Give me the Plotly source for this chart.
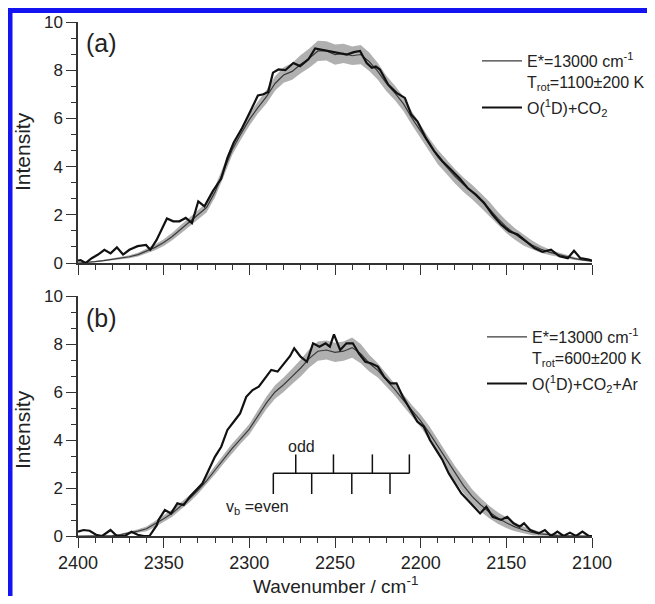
import plotly.graph_objects as go

# ---------------- data ----------------
# Panel (a): O(1D)+CO2 experiment
W_A_EXP = [2400.0, 2398.5, 2395.6, 2392.0, 2388.3, 2384.6, 2381.0, 2377.3, 2373.7, 2370.0,
           2365.2, 2360.3, 2357.8, 2354.2, 2348.1, 2344.4, 2340.8, 2337.1, 2333.5, 2329.8,
           2326.2, 2321.3, 2316.4, 2312.8, 2309.1, 2304.2, 2299.4, 2295.0, 2291.8, 2289.0,
           2286.2, 2283.0, 2279.0, 2274.3, 2270.4, 2265.5, 2261.6, 2258.0, 2254.8, 2249.0,
           2243.1, 2239.0, 2235.4, 2231.5, 2228.5, 2226.2, 2223.8, 2218.9, 2214.1, 2209.2,
           2205.5, 2201.9, 2197.0, 2192.1, 2187.3, 2182.4, 2177.5, 2172.6, 2167.8, 2162.9,
           2158.0, 2153.1, 2148.3, 2143.4, 2138.5, 2133.6, 2128.8, 2123.9, 2119.0, 2114.1,
           2110.5, 2106.8, 2101.9, 2100.0]
I_A_EXP = [0.10, 0.12, 0.00, 0.20, 0.35, 0.55, 0.40, 0.65, 0.35, 0.55,
           0.70, 0.75, 0.55, 0.95, 1.85, 1.73, 1.73, 1.87, 1.66, 2.56,
           2.35, 2.98, 3.50, 4.36, 5.00, 5.60, 6.30, 6.95, 7.00, 7.10,
           7.90, 8.03, 8.00, 8.30, 8.17, 8.45, 8.90, 8.85, 8.80, 8.72,
           8.65, 8.75, 8.80, 8.30, 8.10, 8.15, 8.03, 7.40, 7.06, 6.85,
           6.16, 5.88, 5.19, 4.64, 4.22, 3.88, 3.53, 3.11, 2.84, 2.49,
           2.00, 1.60, 1.32, 1.18, 0.90, 0.62, 0.46, 0.55, 0.28, 0.20,
           0.51, 0.20, 0.14, 0.10]

# Panel (a): simulation, E*=13000 cm-1, Trot=1100 K, and its uncertainty half-width
W_SIM = [2400, 2395, 2390, 2385, 2380, 2375, 2370, 2365, 2360, 2355,
         2350, 2345, 2340, 2335, 2330, 2325, 2320, 2315, 2310, 2305,
         2300, 2295, 2290, 2285, 2280, 2275, 2270, 2265, 2260, 2255,
         2250, 2245, 2240, 2235, 2230, 2225, 2220, 2215, 2210, 2205,
         2200, 2195, 2190, 2185, 2180, 2175, 2170, 2165, 2160, 2155,
         2150, 2145, 2140, 2135, 2130, 2125, 2120, 2115, 2110, 2105, 2100]
I_A_SIM = [0.00, 0.02, 0.06, 0.10, 0.15, 0.20, 0.26, 0.35, 0.50, 0.65,
           0.85, 1.10, 1.40, 1.70, 2.00, 2.30, 2.95, 3.80, 4.70, 5.35,
           5.95, 6.45, 6.90, 7.45, 7.80, 7.95, 8.25, 8.50, 8.80, 8.80,
           8.65, 8.70, 8.60, 8.65, 8.35, 7.95, 7.45, 7.05, 6.60, 6.00,
           5.45, 4.90, 4.40, 4.00, 3.60, 3.25, 2.95, 2.60, 2.25, 1.85,
           1.50, 1.20, 0.95, 0.75, 0.58, 0.45, 0.35, 0.25, 0.18, 0.12, 0.08]
B_A_SIM = [0.00, 0.01, 0.02, 0.03, 0.04, 0.05, 0.06, 0.08, 0.10, 0.12,
           0.14, 0.16, 0.18, 0.20, 0.20, 0.20, 0.22, 0.22, 0.22, 0.24,
           0.25, 0.25, 0.28, 0.30, 0.32, 0.35, 0.38, 0.40, 0.42, 0.40,
           0.42, 0.40, 0.38, 0.40, 0.38, 0.35, 0.32, 0.30, 0.30, 0.28,
           0.28, 0.28, 0.30, 0.30, 0.30, 0.30, 0.30, 0.30, 0.30, 0.28,
           0.26, 0.24, 0.22, 0.18, 0.15, 0.12, 0.10, 0.08, 0.06, 0.04, 0.03]

# Panel (b): O(1D)+CO2+Ar experiment
W_B_EXP = [2400.0, 2396.8, 2393.2, 2389.5, 2385.9, 2381.0, 2377.3, 2372.5, 2368.8, 2365.2,
           2361.5, 2358.3, 2354.0, 2353.0, 2349.3, 2345.7, 2342.0, 2338.3, 2334.7, 2331.0,
           2327.4, 2323.7, 2320.1, 2316.4, 2312.8, 2309.1, 2305.4, 2301.8, 2298.1, 2294.5,
           2290.8, 2287.2, 2283.5, 2279.9, 2276.2, 2273.8, 2270.1, 2266.4, 2262.8, 2259.1,
           2255.5, 2253.0, 2250.6, 2247.0, 2243.3, 2239.6, 2236.0, 2232.3, 2228.7, 2225.0,
           2221.4, 2217.7, 2214.1, 2210.4, 2206.7, 2201.9, 2198.2, 2194.6, 2190.9, 2187.3,
           2183.6, 2180.0, 2176.3, 2172.6, 2169.0, 2165.3, 2161.7, 2158.0, 2153.1, 2149.5,
           2145.8, 2142.2, 2139.7, 2136.1, 2131.2, 2127.5, 2123.9, 2120.2, 2116.6, 2112.9,
           2109.3, 2105.6, 2101.9, 2100.0]
I_B_EXP = [0.18, 0.25, 0.22, 0.05, 0.00, 0.25, 0.00, 0.00, 0.18, 0.05,
           0.00, 0.00, 0.45, 0.67, 1.08, 0.94, 1.36, 1.29, 1.64, 1.92,
           2.19, 2.75, 3.30, 3.72, 4.42, 4.76, 5.11, 5.80, 6.08, 6.22,
           6.57, 6.92, 6.85, 7.19, 7.50, 7.82, 7.47, 7.26, 8.03, 7.89,
           8.03, 7.89, 8.40, 7.75, 8.03, 8.03, 7.60, 7.26, 7.19, 7.06,
           6.64, 6.36, 6.36, 5.80, 5.32, 4.76, 4.56, 4.00, 3.58, 3.17,
           2.61, 2.19, 1.78, 1.50, 1.22, 0.94, 1.22, 0.80, 0.67, 0.80,
           0.53, 0.39, 0.53, 0.25, 0.11, 0.25, 0.00, 0.18, 0.00, 0.14,
           0.00, 0.18, 0.00, 0.00]

# Panel (b): simulation, E*=13000 cm-1, Trot=600 K, and its uncertainty half-width
I_B_SIM = [0.00, 0.00, 0.00, 0.00, 0.02, 0.06, 0.12, 0.20, 0.30, 0.50,
           0.72, 0.95, 1.25, 1.55, 1.90, 2.30, 2.75, 3.20, 3.65, 4.05,
           4.45, 5.00, 5.55, 6.00, 6.30, 6.65, 7.00, 7.40, 7.70, 7.75,
           7.65, 7.70, 7.85, 7.60, 7.20, 6.90, 6.50, 6.10, 5.65, 5.20,
           4.80, 4.30, 3.75, 3.15, 2.60, 2.10, 1.65, 1.30, 1.00, 0.75,
           0.55, 0.38, 0.25, 0.15, 0.09, 0.05, 0.02, 0.01, 0.00, 0.00, 0.00]
B_B_SIM = [0.00, 0.00, 0.00, 0.00, 0.01, 0.03, 0.05, 0.08, 0.10, 0.12,
           0.14, 0.15, 0.15, 0.15, 0.15, 0.16, 0.18, 0.18, 0.20, 0.20,
           0.22, 0.24, 0.26, 0.28, 0.30, 0.32, 0.35, 0.38, 0.40, 0.40,
           0.40, 0.40, 0.42, 0.40, 0.35, 0.30, 0.28, 0.26, 0.25, 0.25,
           0.26, 0.28, 0.30, 0.32, 0.32, 0.32, 0.30, 0.28, 0.26, 0.24,
           0.22, 0.18, 0.15, 0.12, 0.08, 0.06, 0.04, 0.02, 0.01, 0.00, 0.00]

# Bending-quantum ladder in panel (b) (wavenumbers, cm-1) and its levels
LADDER_EVEN = [2286.0, 2263.6, 2240.2, 2217.9]
LADDER_ODD = [2272.9, 2250.9, 2228.2, 2206.6]
LADDER_BASE = 2.61
LADDER_ODD_TOP = 3.40
LADDER_EVEN_BOTTOM = 1.75

LEG_A = ["E*=13000 cm<sup>-1</sup><br>T<sub>rot</sub>=1100\u00b1200 K", "O(<sup>1</sup>D)+CO<sub>2</sub>"]
LEG_B = ["E*=13000 cm<sup>-1</sup><br>T<sub>rot</sub>=600\u00b1200 K", "O(<sup>1</sup>D)+CO<sub>2</sub>+Ar"]

X_TICKS = [2400, 2350, 2300, 2250, 2200, 2150, 2100]
Y_TICKS = [0, 2, 4, 6, 8, 10]

# ---------------- figure ----------------
FONT = "Liberation Sans, Arial, sans-serif"
BAND = "rgba(150,150,150,0.75)"
SIM_C = "#3a3a3a"
EXP_C = "#111111"

fig = go.Figure()

def add_panel(xa, ya, i_sim, b_sim, w_exp, i_exp, labels, legend, tag):
    upper = [v + b for v, b in zip(i_sim, b_sim)]
    lower = [max(v - b, 0) for v, b in zip(i_sim, b_sim)]
    fig.add_trace(go.Scatter(x=W_SIM, y=lower, mode="lines", line=dict(width=0, color=BAND),
                             xaxis=xa, yaxis=ya, showlegend=False, hoverinfo="skip"))
    fig.add_trace(go.Scatter(x=W_SIM, y=upper, mode="lines", line=dict(width=0, color=BAND),
                             fill="tonexty", fillcolor=BAND,
                             xaxis=xa, yaxis=ya, showlegend=False, hoverinfo="skip"))
    fig.add_trace(go.Scatter(x=W_SIM, y=i_sim, mode="lines", name=labels[0], legendgroup=tag + "sim",
                             line=dict(width=1.2, color=SIM_C), xaxis=xa, yaxis=ya, legend=legend))
    fig.add_trace(go.Scatter(x=w_exp, y=i_exp, mode="lines", name=labels[1], legendgroup=tag + "exp",
                             line=dict(width=2.2, color=EXP_C), xaxis=xa, yaxis=ya, legend=legend))

add_panel("x", "y", I_A_SIM, B_A_SIM, W_A_EXP, I_A_EXP, LEG_A, "legend", "a")
add_panel("x2", "y2", I_B_SIM, B_B_SIM, W_B_EXP, I_B_EXP, LEG_B, "legend2", "b")

# ladder
lx, ly = [LADDER_EVEN[0], LADDER_ODD[-1]], [LADDER_BASE, LADDER_BASE]
for w in LADDER_ODD:
    lx += [None, w, w]
    ly += [None, LADDER_BASE, LADDER_ODD_TOP]
for w in LADDER_EVEN:
    lx += [None, w, w]
    ly += [None, LADDER_BASE, LADDER_EVEN_BOTTOM]
fig.add_trace(go.Scatter(x=lx, y=ly, mode="lines", line=dict(width=1.5, color=EXP_C),
                         xaxis="x2", yaxis="y2", showlegend=False, hoverinfo="skip"))

# The page body adds an 8px margin; the figure is sized to fit the window without scrollbars,
# and all positions below are given in window (screen) pixels.
OFF = 8
W, H = 655 - 2 * OFF, 604 - 2 * OFF
ML, MT = 78 - OFF, 22 - OFF
PW = PH = 514
MR, MB = W - ML - PW, H - MT - PH
def py(sy):
    return (H - MB - (sy - OFF)) / PH
def pxx(sx):
    return (sx - OFF - ML) / PW

axis_common = dict(
    range=[2400, 2100], tickvals=X_TICKS, ticks="outside", ticklen=10, tickwidth=1.3,
    tickcolor="#333", showline=True, linecolor="#333", linewidth=1.5, showgrid=False,
    zeroline=False, automargin=False,
    minor=dict(dtick=10, tick0=2100, ticks="outside", ticklen=5, tickwidth=1.1,
               tickcolor="#333", showgrid=False),
    tickfont=dict(family=FONT, size=18, color="#222"),
)
yaxis_common = dict(
    range=[0, 10], tickvals=Y_TICKS, ticks="outside", ticklen=10, tickwidth=1.3,
    tickcolor="#333", showline=True, linecolor="#333", linewidth=1.5, showgrid=False,
    zeroline=False, automargin=False,
    minor=dict(dtick=2 / 3, tick0=0, ticks="outside", ticklen=5, tickwidth=1.1,
               tickcolor="#333", showgrid=False),
    tickfont=dict(family=FONT, size=17, color="#222"),
)

legend_common = dict(font=dict(family=FONT, size=16, color="#222"), bgcolor="rgba(0,0,0,0)",
                     borderwidth=0, valign="top", traceorder="grouped", tracegroupgap=2,
                     itemwidth=40, xanchor="left", yanchor="top")

fig.update_layout(
    width=W, height=H,
    margin=dict(l=ML, r=MR, t=MT, b=MB, autoexpand=False),
    paper_bgcolor="white", plot_bgcolor="white",
    font=dict(family=FONT, size=17, color="#222"),
    xaxis=dict(axis_common, anchor="y", showticklabels=False),
    yaxis=dict(yaxis_common, domain=[py(263), 1.0], anchor="x"),
    xaxis2=dict(axis_common, anchor="y2", matches="x"),
    yaxis2=dict(yaxis_common, domain=[0, py(296)], anchor="x2"),
    legend=dict(legend_common, x=pxx(477), y=py(44)),
    legend2=dict(legend_common, x=pxx(482), y=py(320)),
    showlegend=True,
)

annotations = []
annotations.append(dict(text="Wavenumber / cm<sup>-1</sup>", x=pxx(335), y=py(585), xref="paper", yref="paper",
                        showarrow=False, xanchor="center", yanchor="middle",
                        font=dict(family=FONT, size=19, color="#222")))
for yy in (152, 430):
    annotations.append(dict(text="Intensity", x=pxx(22), y=py(yy), xref="paper", yref="paper",
                            showarrow=False, textangle=-90, xanchor="center", yanchor="middle",
                            font=dict(family=FONT, size=21, color="#222")))
annotations.append(dict(text="(a)", x=pxx(84), y=py(43), xref="paper", yref="paper", showarrow=False,
                        xanchor="left", yanchor="middle", font=dict(family=FONT, size=25, color="#222")))
annotations.append(dict(text="(b)", x=pxx(84), y=py(318), xref="paper", yref="paper", showarrow=False,
                        xanchor="left", yanchor="middle", font=dict(family=FONT, size=25, color="#222")))
annotations.append(dict(text="odd", x=2269.5, y=3.72, xref="x2", yref="y2", showarrow=False,
                        xanchor="center", yanchor="middle", font=dict(family=FONT, size=16, color="#222")))
annotations.append(dict(text="v<sub>b</sub> =even", x=2314.5, y=1.2, xref="x2", yref="y2", showarrow=False,
                        xanchor="left", yanchor="middle", font=dict(family=FONT, size=16, color="#222")))
fig.update_layout(annotations=annotations)

# blue frame of the figure (left and top edges)
shapes = [
    dict(type="line", xref="paper", yref="paper", x0=pxx(10), x1=pxx(10), y0=py(8), y1=py(620),
         line=dict(color="#1414f0", width=5)),
    dict(type="line", xref="paper", yref="paper", x0=pxx(8), x1=pxx(660), y0=py(10.5), y1=py(10.5),
         line=dict(color="#1414f0", width=5)),
]
fig.update_layout(shapes=shapes)

fig.write_html("out.html")
